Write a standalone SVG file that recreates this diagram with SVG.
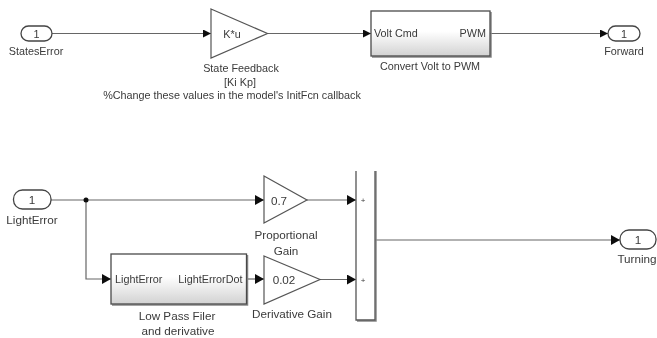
<svg xmlns="http://www.w3.org/2000/svg" width="657" height="338" viewBox="0 0 657 338">
<style>
text{font-family:"Liberation Sans",Arial,sans-serif;font-size:10.800px;fill:#3a3a3a;text-anchor:middle}
.s{text-anchor:start}.e{text-anchor:end}
.m{font-size:11.700px}
.port{fill:#fff;stroke:#444;stroke-width:1.300}
.tri{fill:#fff;stroke:#555;stroke-width:1.200}
.box{fill:url(#g);stroke:#4a4a4a;stroke-width:1.300}
.sh{fill:none;stroke:#888;stroke-width:1.500}
.w{fill:none;stroke:#666;stroke-width:1.200}
</style>
<defs>
<linearGradient id="g" x1="0" y1="0" x2="0" y2="1"><stop offset="0.45" stop-color="#fff"/><stop offset="1" stop-color="#d2d2d2"/></linearGradient>
<marker id="a" viewBox="0 0 8 8" refX="8" refY="4" markerWidth="8" markerHeight="8" markerUnits="userSpaceOnUse" orient="auto"><path d="M0 0L8 4L0 8Z" fill="#111"/></marker>
<marker id="c" viewBox="0 0 9 10" refX="9" refY="5" markerWidth="9" markerHeight="10" markerUnits="userSpaceOnUse" orient="auto"><path d="M0 0L9 5L0 10Z" fill="#111"/></marker>
<filter id="b" x="-2%" y="-2%" width="104%" height="104%"><feGaussianBlur stdDeviation="0.35"/></filter>
</defs>
<g filter="url(#b)">
<g id="connectors">
<path class="w" marker-end="url(#a)" d="M52 33.500H211"/>
<path class="w" d="M267.500 33.500H371" marker-end="url(#a)"/>
<path class="w" d="M490 33.500H608" marker-end="url(#a)"/>
<path class="w" d="M51 200H264" marker-end="url(#c)"/>
<path class="w" d="M86 200V279H111" marker-end="url(#c)"/>
<path class="w" d="M246.500 279H264" marker-end="url(#c)"/>
<path class="w" d="M307 200H356" marker-end="url(#c)"/>
<path class="w" d="M320 279.500H356" marker-end="url(#c)"/>
<path class="w" d="M375 240H620" marker-end="url(#c)"/>
<circle cx="86" cy="200" r="2.500" fill="#111"/>
</g>
<g id="in-stateserror">
<rect class="port" x="21" y="26" width="31" height="15" rx="7.500"/>
<text x="36.500" y="37.500">1</text>
<text x="36" y="55">StatesError</text>
</g>
<g id="state-feedback">
<path class="tri" d="M211 9L267.500 33.500L211 58Z"/>
<text x="232" y="38">K*u</text>
<text x="241" y="72">State Feedback</text>
<text x="240" y="85.500">[Ki Kp]</text>
<text x="232" y="99">%Change these values in the model's InitFcn callback</text>
</g>
<g id="convert-volt">
<path class="sh" d="M491 12V57H372"/>
<rect class="box" x="371" y="11" width="119" height="45"/>
<text class="s" x="374" y="37">Volt Cmd</text>
<text class="e" x="486" y="37">PWM</text>
<text x="430" y="70">Convert Volt to PWM</text>
</g>
<g id="out-forward">
<rect class="port" x="608" y="26" width="32" height="15" rx="7.500"/>
<text x="624" y="37.500">1</text>
<text x="624" y="55">Forward</text>
</g>
<g id="in-lighterror">
<rect class="port" x="13.500" y="190" width="37.500" height="19" rx="9"/>
<text class="m" x="32" y="204">1</text>
<text class="m" x="32" y="224">LightError</text>
</g>
<g id="proportional-gain">
<path class="tri" d="M264 176L307 200L264 223Z"/>
<text class="m" x="279" y="204.500">0.7</text>
<text class="m" x="286" y="239">Proportional</text>
<text class="m" x="286" y="255">Gain</text>
</g>
<g id="low-pass">
<path class="sh" d="M247.500 255V305H112"/>
<rect class="box" x="111" y="254" width="135.500" height="50"/>
<text class="s" x="115" y="283">LightError</text>
<text class="e" x="242.500" y="283">LightErrorDot</text>
<text class="m" x="177" y="320">Low Pass Filer</text>
<text class="m" x="178" y="335">and derivative</text>
</g>
<g id="derivative-gain">
<path class="tri" d="M264 256L320 279.500L264 304Z"/>
<text class="m" x="284" y="284">0.02</text>
<text class="m" x="292" y="318">Derivative Gain</text>
</g>
<g id="sum">
<path class="sh" d="M376 171V321H357"/>
<path d="M356 171V320H375V171" fill="#fff" stroke="#555" stroke-width="1.300"/>
<text x="363" y="203" style="font-size:8px">+</text>
<text x="363" y="283" style="font-size:8px">+</text>
</g>
<g id="out-turning">
<rect class="port" x="620" y="230" width="36" height="19" rx="9"/>
<text class="m" x="638" y="244">1</text>
<text class="m" x="637" y="263">Turning</text>
</g>
</g>
</svg>
